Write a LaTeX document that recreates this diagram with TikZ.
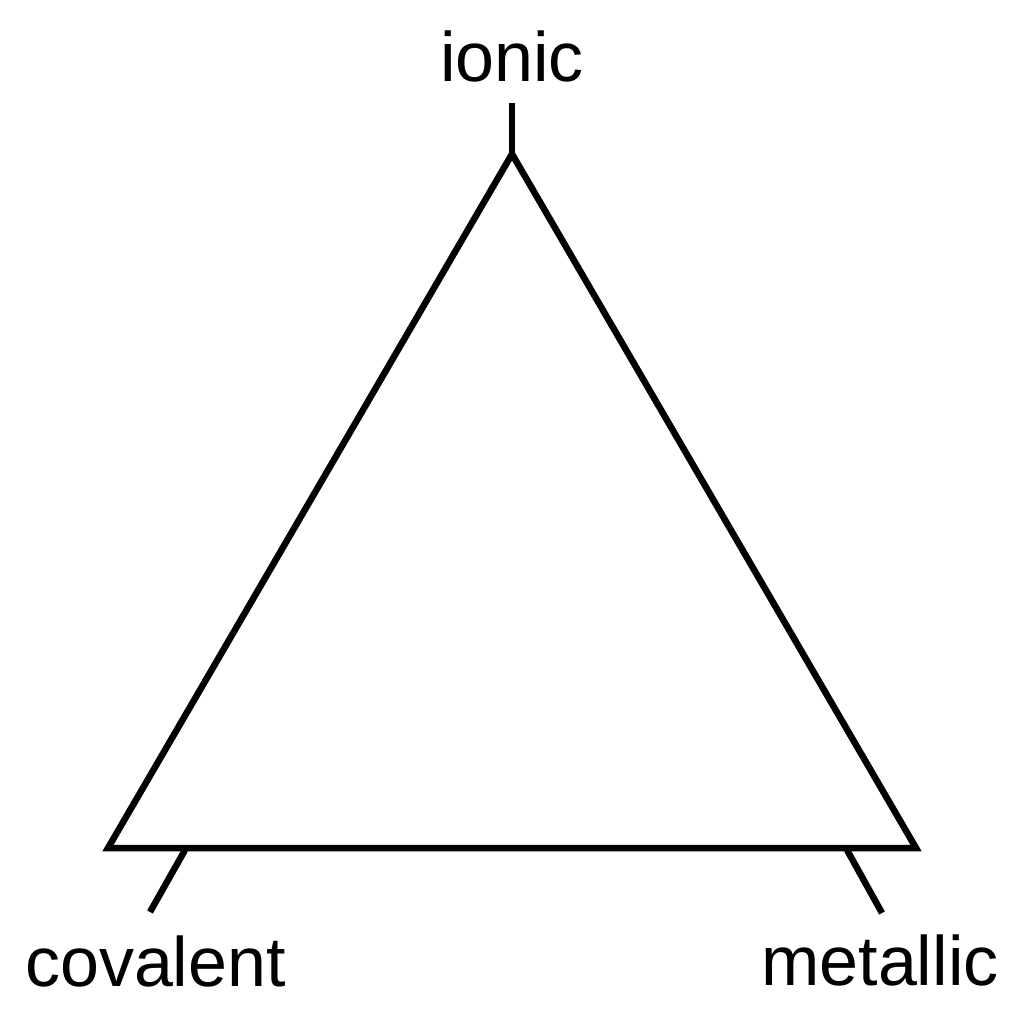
\documentclass[tikz,border=0pt]{standalone}
\usepackage{fontspec}
\setmainfont{Liberation Sans}
\begin{document}
\begin{tikzpicture}[x=1pt,y=-1pt,
  edge/.style={line width=6.5pt,line join=miter},
  lbl/.style={font=\fontsize{70}{84}\selectfont,inner sep=0pt,anchor=base}]
\useasboundingbox (0,0) rectangle (1024,1024);
\coordinate (top) at (512,154);
\coordinate (bl) at (108,848);
\coordinate (br) at (916,848);
\coordinate (ttop) at (512,103);
\coordinate (lt1) at (185,850);
\coordinate (lt2) at (150,912);
\coordinate (rt1) at (847,850);
\coordinate (rt2) at (882,913);
\draw[edge] (top) -- (bl) -- (br) -- cycle;
\draw[edge] (ttop) -- (top);
\draw[edge] (lt1) -- (lt2);
\draw[edge] (rt1) -- (rt2);
\node[lbl] (ionic) at (512,82) {ionic};
\node[lbl] (cov) at (155.5,986) {covalent};
\node[lbl] (met) at (880,985) {metallic};
\end{tikzpicture}
\end{document}
